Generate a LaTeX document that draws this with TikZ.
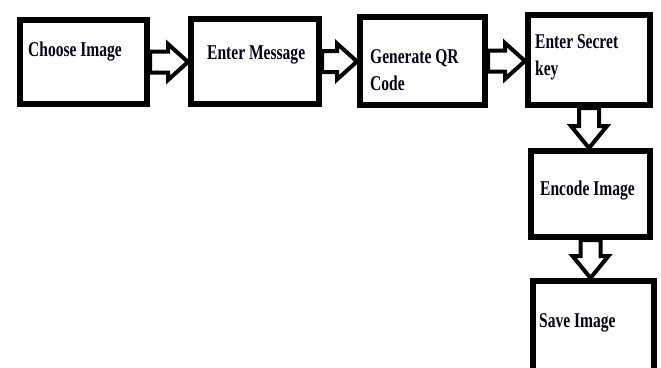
\documentclass[tikz,border=0pt]{standalone}
\usepackage{fontspec}
\setmainfont{Liberation Serif}[FakeStretch=0.74]
\usetikzlibrary{calc}
\tikzset{
  box/.style={draw=black, line width=6pt, fill=white, rectangle, inner sep=0pt},
  lbl/.style={inner sep=0pt, anchor=base west, align=left,
    font=\fontsize{21}{27}\selectfont\bfseries, text=black!90!blue},
  arrowbody/.style={draw=black, line width=4pt, fill=white, line join=miter},
  harrow/.style={arrowbody,
    to path={let \p1=(\tikztostart), \p2=(\tikztotarget) in
      (\x1,\y1+10.5) -- (\x2-20,\y1+10.5) -- (\x2-20,\y1+18) -- (\x2,\y1)
      -- (\x2-20,\y1-18) -- (\x2-20,\y1-10.5) -- (\x1,\y1-10.5) -- cycle}},
  varrow/.style={arrowbody,
    to path={let \p1=(\tikztostart), \p2=(\tikztotarget) in
      (\x1-10,\y1) -- (\x1-10,\y2+22) -- (\x1-18,\y2+22) -- (\x1,\y2)
      -- (\x1+18,\y2+22) -- (\x1+10,\y2+22) -- (\x1+10,\y1) -- cycle}}
}
\begin{document}
\begin{tikzpicture}[x=1pt,y=-1pt]
\useasboundingbox[fill=white] (0,0) rectangle (661,367);
% boxes
\node[box, minimum width=127, minimum height=84] (b1) at (83.5,62) {};
\node[box, minimum width=128, minimum height=85] (b2) at (255,61.5) {};
\node[box, minimum width=125, minimum height=88] (b3) at (422.5,61) {};
\node[box, minimum width=122, minimum height=90] (b4) at (589,60) {};
\node[box, minimum width=119, minimum height=86] (b5) at (590.5,194) {};
\node[box, minimum width=121, minimum height=98] (b6) at (593.5,330) {};
% arrows
\draw[harrow] (b1.east) to (b2.west);
\draw[harrow] (b2.east) to (b3.west);
\draw[harrow] (b3.east) to (b4.west);
\draw[varrow] (b4.south) to (b5.north);
\draw[varrow] (b5.south) to (b6.north);
% labels
\node[lbl] (t1) at (28,56) {Choose Image};
\node[lbl] (t2) at (207,59) {Enter Message};
\node[lbl] (t3) at (370,90) {Generate QR\\Code};
\node[lbl] (t4) at (535,75) {Enter Secret\\key};
\node[lbl] (t5) at (540,195) {Encode Image};
\node[lbl] (t6) at (539,327) {Save Image};
\end{tikzpicture}
\end{document}
